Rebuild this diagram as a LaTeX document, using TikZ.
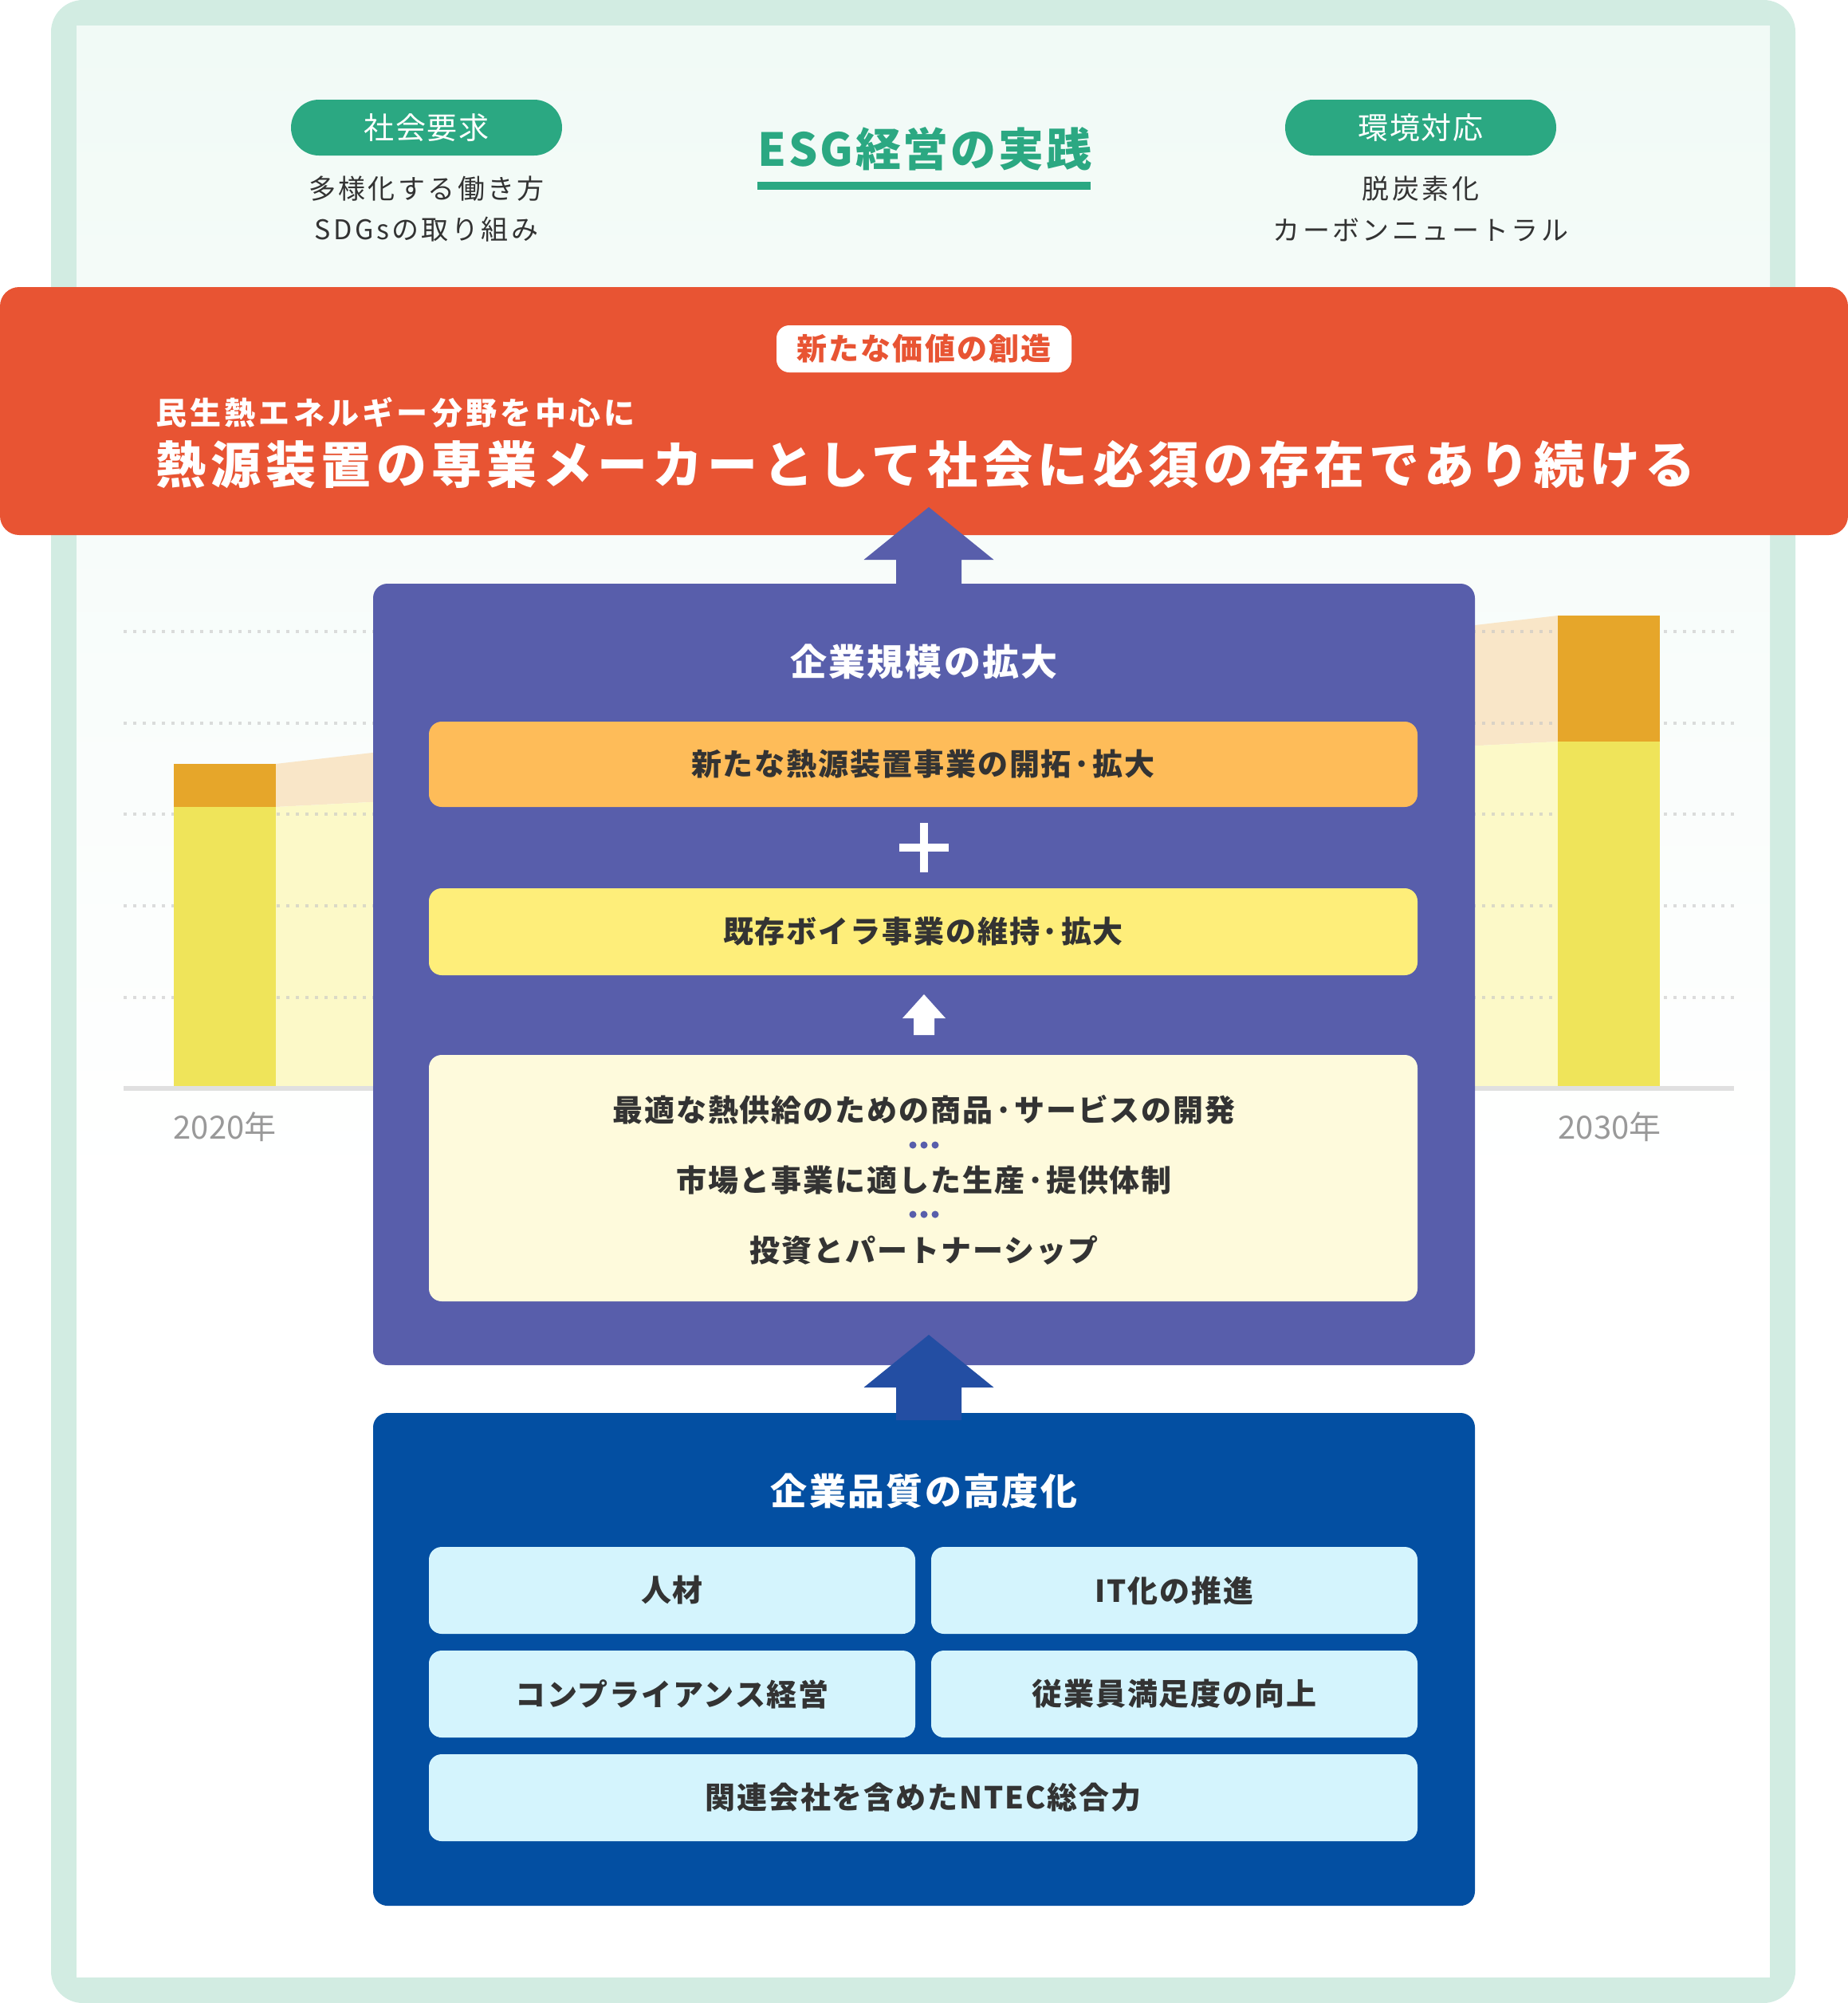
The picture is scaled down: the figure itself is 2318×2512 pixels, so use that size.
\documentclass[tikz,border=0pt]{standalone}
\usepackage{fontspec}
\setmainfont{Noto Sans CJK JP}
\definecolor{framec}{HTML}{D2ECE2}
\definecolor{mintbg}{HTML}{F1FAF6}
\definecolor{esggreen}{HTML}{2BA882}
\definecolor{bannerred}{HTML}{E85433}
\definecolor{boxpurple}{HTML}{585EAB}
\definecolor{boxblue}{HTML}{034FA2}
\definecolor{arrowblue}{HTML}{234EA3}
\definecolor{orangebox}{HTML}{FEBC59}
\definecolor{yellowbox}{HTML}{FEEE7A}
\definecolor{creambox}{HTML}{FEFADC}
\definecolor{cellcyan}{HTML}{D4F4FD}
\definecolor{textdark}{HTML}{333333}
\definecolor{yeargray}{HTML}{999999}
\definecolor{barorange}{HTML}{E6A62A}
\definecolor{baryellow}{HTML}{EFE45A}
\definecolor{peach}{HTML}{F9E6C8}
\definecolor{lightyellow}{HTML}{FCF9C8}
\definecolor{basegray}{HTML}{E0E0E0}
\newcommand\pxfont[2]{\fontsize{#1}{#1}\selectfont\addfontfeatures{LetterSpace=#2}}
\begin{document}
\begin{tikzpicture}[x=1pt,y=-1pt,
  every node/.style={inner sep=0pt, outer sep=0pt},
  pill/.style={fill=esggreen, rounded corners=35pt, minimum width=340pt, minimum height=70pt, text=white, font=\pxfont{38}{5}},
  smalltxt/.style={text=textdark, font=\pxfont{34}{10}},
  innerbox/.style={rounded corners=16pt, minimum width=1240pt, text=textdark, font=\bfseries\pxfont{38}{5}},
  cell/.style={fill=cellcyan, rounded corners=16pt, minimum height=109pt, text=textdark, font=\bfseries\pxfont{38}{5}},
  bigtitle/.style={text=white, font=\bfseries\pxfont{46}{5}},
  creamtxt/.style={text=textdark, font=\bfseries\pxfont{38}{5}},
  yearlbl/.style={text=yeargray, font=\pxfont{40}{0}},
  gridline/.style={line width=4pt, color=gray!45, opacity=0.6, dash pattern=on 4pt off 8pt},
  sepdot/.style={fill=boxpurple, circle, minimum size=9pt}
]
\useasboundingbox (0,0) rectangle (2318,2512);
% frame
\fill[framec, rounded corners=40pt] (64,0) rectangle (2252,2512);
\shade[top color=mintbg, bottom color=white] (96,32) rectangle (2220,1500);
\fill[white] (96,1500) rectangle (2220,2480);

% chart
\fill[peach] (346,958) -- (1954,772) -- (1954,930) -- (346,1012) -- cycle;
\fill[lightyellow] (346,1012) -- (1954,930) -- (1954,1365) -- (346,1365) -- cycle;
\foreach \yy in {792,907,1021,1136,1251}
  \draw[gridline] (155,\yy) -- (2175,\yy);
\fill[baryellow] (218,1012) rectangle (346,1365);
\fill[barorange] (218,958) rectangle (346,1012);
\fill[baryellow] (1954,930) rectangle (2082,1365);
\fill[barorange] (1954,772) rectangle (2082,930);
\draw[basegray, line width=6pt] (155,1365) -- (2175,1365);
\node[yearlbl] (y2020) at (282,1413) {2020年};
\node[yearlbl] (y2030) at (2019,1413) {2030年};

% header
\node[pill] (social) at (535,160) {社会要求};
\node[smalltxt] (s1) at (535,237) {多様化する働き方};
\node[smalltxt] (s2) at (535,288) {SDGsの取り組み};
\node[pill] (env) at (1782,160) {環境対応};
\node[smalltxt] (e1) at (1782,237) {脱炭素化};
\node[smalltxt] (e2) at (1782,288) {カーボンニュートラル};
\node[text=esggreen, font=\bfseries\pxfont{57}{5}] (esg) at (1160,187) {ESG経営の実践};
\fill[esggreen] (950,228) rectangle (1368,238);

% banner
\node[fill=bannerred, rounded corners=24pt, minimum width=2318pt, minimum height=311pt] (banner) at (1159,515.5) {};
\node[fill=white, rounded corners=16pt, minimum width=370pt, minimum height=59pt, text=bannerred, font=\bfseries\pxfont{38}{6}] (value) at (1159,437.5) {新たな価値の創造};
\node[anchor=west, text=white, font=\bfseries\pxfont{39}{11}] (sub) at (195,517) {民生熱エネルギー分野を中心に};
\node[anchor=west, text=white, font=\bfseries\pxfont{63}{10}] (mission) at (195,583) {熱源装置の専業メーカーとして社会に必須の存在であり続ける};

% purple box
\node[fill=boxpurple, rounded corners=18pt, minimum width=1382pt, minimum height=980pt] (scale) at (1159,1222) {};
\fill[boxpurple] (1165,636) -- (1246.5,702) -- (1206,702) -- (1206,740) -- (1124,740) -- (1124,702) -- (1083.5,702) -- cycle;
\node[bigtitle] (scaletitle) at (1159,830) {企業規模の拡大};
\node[innerbox, fill=orangebox, minimum height=107pt] (newbiz) at (1158,958.5) {新たな熱源装置事業の開拓·拡大};
\fill[white] (1154,1032) rectangle (1164,1094);
\fill[white] (1128,1058) rectangle (1190,1068);
\node[innerbox, fill=yellowbox, minimum height=109pt] (boiler) at (1158,1168.5) {既存ボイラ事業の維持·拡大};
\fill[white] (1159,1247) -- (1186,1277) -- (1172,1277) -- (1172,1298) -- (1146,1298) -- (1146,1277) -- (1132,1277) -- cycle;
\node[innerbox, fill=creambox, minimum height=309pt] (base) at (1158,1477.5) {};
\node[creamtxt] (c1) at (1159,1392) {最適な熱供給のための商品·サービスの開発};
\node[creamtxt] (c2) at (1159,1480) {市場と事業に適した生産·提供体制};
\node[creamtxt] (c3) at (1159,1568) {投資とパートナーシップ};
\foreach \yy in {1436,1523}{
  \node[sepdot] at (1145,\yy) {};
  \node[sepdot] at (1159,\yy) {};
  \node[sepdot] at (1173,\yy) {};
}

% blue box
\node[fill=boxblue, rounded corners=18pt, minimum width=1382pt, minimum height=618pt] (quality) at (1159,2081) {};
\fill[arrowblue] (1165,1674) -- (1246.5,1740) -- (1206,1740) -- (1206,1781) -- (1124,1781) -- (1124,1740) -- (1083.5,1740) -- cycle;
\node[bigtitle] (qtitle) at (1159,1870) {企業品質の高度化};
\node[cell, minimum width=610pt] (hr) at (843,1994.5) {人材};
\node[cell, minimum width=610pt] (it) at (1473,1994.5) {IT化の推進};
\node[cell, minimum width=610pt] (comp) at (843,2124.5) {コンプライアンス経営};
\node[cell, minimum width=610pt] (es) at (1473,2124.5) {従業員満足度の向上};
\node[cell, minimum width=1240pt] (group) at (1158,2254.5) {関連会社を含めたNTEC総合力};
\end{tikzpicture}
\end{document}
